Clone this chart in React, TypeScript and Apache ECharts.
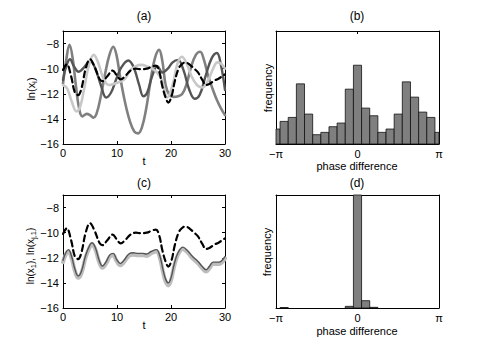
import React, { useEffect, useRef } from "react";
import * as echarts from "echarts";

const FONT = "Liberation Sans, Arial, Helvetica, sans-serif";

// ---- Panel (a): ln(x_i) of the uncoupled oscillators ----
const mediumA: [number, number][] = [
  [0, -11.2], [0.6, -9.3], [1.2, -8.1], [1.8, -9.2], [2.4, -11.4], [3.0, -13.2], [3.6, -13.8],
  [4.4, -13.6], [5.0, -13.7], [5.6, -13.9], [6.2, -13.6], [7.0, -12.2], [7.8, -10.4], [8.6, -8.9],
  [9.3, -8.25], [9.9, -8.9], [10.6, -10.7], [11.5, -12.7], [12.4, -14.2], [13.2, -15.0], [13.9, -15.15],
  [14.6, -14.7], [15.4, -13.2], [16.2, -11.0], [17.0, -9.2], [17.8, -8.5], [18.4, -9.4], [19.0, -11.3],
  [19.7, -12.1], [20.5, -12.25], [21.3, -12.2], [22.1, -12.0], [22.9, -11.2], [23.7, -9.9], [24.6, -8.9],
  [25.4, -8.65], [26.1, -9.3], [26.9, -10.6], [27.7, -11.6], [28.5, -12.5], [29.3, -13.2], [30, -13.7],
];
const darkA: [number, number][] = [
  [0, -10.9], [0.6, -9.8], [1.3, -9.25], [2.0, -9.8], [2.9, -10.25], [3.9, -9.9], [5.0, -9.4],
  [5.9, -9.9], [7.0, -11.3], [8.0, -12.3], [8.9, -11.9], [9.8, -10.9], [10.8, -9.9], [12.1, -9.35],
  [13.1, -9.9], [14.1, -11.3], [14.9, -12.2], [15.6, -11.9], [16.5, -10.6], [17.5, -9.8], [18.4, -10.3],
  [19.4, -10.0], [20.3, -9.5], [21.3, -9.3], [22.3, -10.1], [23.4, -11.7], [24.4, -12.4], [25.3, -12.1],
  [26.4, -10.6], [27.5, -9.2], [28.5, -8.75], [29.2, -9.6], [30, -11.7],
];
const lightA: [number, number][] = [
  [0, -11.3], [0.8, -11.6], [1.6, -12.6], [2.5, -13.4], [3.2, -13.0], [4.0, -11.4], [4.8, -9.7],
  [5.7, -8.9], [6.5, -9.5], [7.5, -10.8], [8.5, -11.3], [9.5, -11.2], [10.5, -11.05], [11.5, -10.8],
  [12.5, -10.1], [13.5, -9.8], [14.5, -9.7], [15.5, -9.8], [16.5, -10.0], [17.4, -10.3], [18.3, -10.9],
  [19.3, -12.3], [20.3, -11.3], [21.2, -9.6], [22.0, -9.05], [22.8, -9.5], [23.8, -10.6], [24.8, -11.3],
  [25.8, -11.5], [26.8, -11.0], [27.8, -10.0], [28.6, -9.5], [29.3, -9.6], [30, -10.0],
];
// dashed driving signal (same in (a) and (c))
const dashedSignal: [number, number][] = [
  [0, -10.1], [0.7, -9.65], [1.5, -10.6], [2.2, -11.9], [2.8, -12.1], [3.4, -11.6], [4.2, -10.0],
  [5.0, -9.25], [5.8, -9.8], [6.8, -10.85], [7.3, -11.0], [8.2, -10.6], [9.2, -10.15], [9.9, -10.5],
  [10.7, -10.85], [11.5, -10.6], [12.5, -10.15], [13.5, -10.0], [14.5, -10.05], [15.5, -10.0],
  [16.4, -9.85], [17.2, -9.75], [17.8, -10.2], [18.4, -11.4], [19.0, -12.3], [19.5, -12.7], [20.1, -12.2],
  [20.7, -11.0], [21.4, -10.0], [22.0, -9.65], [22.7, -9.5], [23.5, -9.7], [24.3, -10.0], [25.0, -10.3],
  [25.8, -10.9], [26.5, -11.3], [27.2, -11.2], [28.0, -10.95], [28.8, -10.8], [29.5, -10.6], [30, -10.45],
];

// ---- Panel (c): ln(x_1), ln(x_{j,1}) ----
const darkC: [number, number][] = [
  [0, -12.2], [0.5, -11.6], [1.0, -11.35], [1.6, -11.9], [2.2, -12.9], [2.8, -13.45], [3.4, -13.1],
  [4.2, -11.8], [5.0, -10.95], [5.4, -10.8], [6.0, -11.2], [6.7, -12.2], [7.3, -12.65], [8.0, -12.3],
  [8.7, -11.75], [9.3, -11.65], [9.9, -12.1], [10.6, -12.45], [11.3, -12.2], [12.2, -11.7], [13.0, -11.6],
  [14.0, -11.65], [14.8, -11.65], [15.5, -11.7], [16.3, -11.5], [17.3, -11.35], [17.9, -11.8], [18.5, -12.9],
  [19.0, -13.7], [19.5, -14.0], [20.0, -13.6], [20.6, -12.5], [21.3, -11.6], [22.2, -11.15], [23.0, -11.4],
  [24.0, -11.9], [25.0, -12.3], [25.8, -12.7], [26.5, -12.95], [27.1, -12.7], [27.8, -12.35], [28.5, -12.35],
  [29.2, -12.3], [30, -11.9],
];
const lightC: [number, number][] = [
  [0, -12.35], [0.5, -11.75], [1.0, -11.5], [1.6, -12.05], [2.2, -13.05], [2.8, -13.6], [3.4, -13.25],
  [4.2, -11.95], [5.0, -11.1], [5.4, -10.95], [6.0, -11.35], [6.7, -12.35], [7.3, -12.8], [8.0, -12.45],
  [8.7, -11.9], [9.3, -11.8], [9.9, -12.25], [10.6, -12.6], [11.3, -12.35], [12.2, -11.85], [13.0, -11.75],
  [14.0, -11.8], [14.8, -11.8], [15.5, -11.85], [16.3, -11.65], [17.3, -11.5], [17.9, -11.95], [18.5, -13.1],
  [19.0, -13.9], [19.5, -14.2], [20.0, -13.8], [20.6, -12.65], [21.3, -11.75], [22.2, -11.3], [23.0, -11.55],
  [24.0, -12.05], [25.0, -12.45], [25.8, -12.85], [26.5, -13.1], [27.1, -12.85], [27.8, -12.5], [28.5, -12.5],
  [29.2, -12.45], [30, -12.05],
];

// ---- Histograms (b) and (d): bin centres in units of pi ----
const binCentersPi = [
  -1, -0.9, -0.8, -0.7, -0.6, -0.5, -0.4, -0.3, -0.2, -0.1, 0,
  0.1, 0.2, 0.3, 0.4, 0.5, 0.6, 0.7, 0.8, 0.9, 1,
];
const binWidthPi = 0.1;
const freqB = [45, 68, 80, 181, 90, 28, 35, 52, 63, 165, 237, 108, 85, 35, 45, 90, 187, 141, 96, 80, 35];
const freqD = [0, 1.5, 0, 0, 0, 0, 0, 0, 0, 5, 340, 22, 2, 0, 0, 0, 0, 0, 0, 0, 0];
const freqMax = 340;

const tTicks = { min: 0, max: 30, interval: 10 };
const lnTicks = { min: -16, max: -7, interval: 2 };

export default function App() {
  const ref = useRef<HTMLDivElement>(null);

  useEffect(() => {
    if (!ref.current) return;
    const chart = echarts.init(ref.current, undefined, { renderer: "svg" });
    const PI = Math.PI;
    const BIN = binWidthPi * PI;

    const line = { show: true, onZero: false, lineStyle: { color: "#000", width: 1 } };
    const tick = { show: true, inside: true, length: 3, lineStyle: { color: "#000", width: 1 } };
    const lbl = { fontSize: 11, color: "#000", fontFamily: FONT };
    const minus = (v: number) => String(v).replace("-", "\u2212");
    const piFmt = (v: number) => (Math.abs(v) < 1e-6 ? "0" : v < 0 ? "\u2212\u03c0" : "\u03c0");

    const tX = (g: number, pos: string, labels: boolean) => ({
      gridIndex: g, type: "value", position: pos, ...tTicks,
      axisLine: line, axisTick: tick, splitLine: { show: false },
      axisLabel: labels ? { ...lbl, margin: 3 } : { show: false },
    });
    const lnY = (g: number, pos: string, labels: boolean) => ({
      gridIndex: g, type: "value", position: pos, ...lnTicks,
      axisLine: line, axisTick: tick, splitLine: { show: false },
      axisLabel: labels ? { ...lbl, margin: 4, formatter: minus, showMaxLabel: false } : { show: false },
    });
    const phX = (g: number, pos: string, labels: boolean) => ({
      gridIndex: g, type: "value", position: pos, min: -PI, max: PI, interval: PI,
      axisLine: line, axisTick: tick, splitLine: { show: false },
      axisLabel: labels ? { ...lbl, margin: 4, formatter: piFmt } : { show: false },
    });
    const frY = (g: number, pos: string) => ({
      gridIndex: g, type: "value", position: pos, min: 0, max: freqMax,
      axisLine: line, axisTick: { show: false }, splitLine: { show: false }, axisLabel: { show: false },
    });

    const histData = (freq: number[]) => binCentersPi.map((c, i) => [c * PI, freq[i]]);
    const renderBar = (params: any, api: any) => {
      const c = api.value(0);
      const v = api.value(1);
      if (!(v > 0)) return null;
      const p0 = api.coord([c - BIN / 2, v]);
      const p1 = api.coord([c + BIN / 2, 0]);
      const cs = params.coordSys;
      const rect = echarts.graphic.clipRectByRect(
        { x: p0[0], y: p0[1], width: p1[0] - p0[0], height: p1[1] - p0[1] },
        { x: cs.x, y: cs.y, width: cs.width, height: cs.height }
      );
      if (!rect) return null;
      return { type: "rect", shape: rect, style: { fill: "#7f7f7f", stroke: "#111", lineWidth: 0.8 } };
    };

    const lineSeries = (x: number, y: number, data: [number, number][], color: string, width: number, dash?: number[]) => ({
      type: "line", xAxisIndex: x, yAxisIndex: y, data, showSymbol: false, smooth: 0.4, silent: true,
      lineStyle: { color, width, type: dash ? dash : "solid", cap: "round", join: "round" },
    });

    const txt = (text: string, x: number, y: number, size = 12, extra: any = {}) => ({
      type: "text", x, y, silent: true, ...extra,
      style: { text, fontSize: size, fontFamily: FONT, fill: "#000", align: "center", verticalAlign: "middle", ...(extra.style || {}) },
    });

    chart.setOption({
      animation: false,
      backgroundColor: "#fff",
      grid: [
        { left: 63, top: 31, width: 162, height: 113 },
        { left: 276, top: 31, width: 163, height: 113 },
        { left: 63, top: 195, width: 162, height: 113 },
        { left: 276, top: 195, width: 163, height: 113 },
      ],
      xAxis: [
        tX(0, "bottom", true), tX(0, "top", false),
        phX(1, "bottom", true), phX(1, "top", false),
        tX(2, "bottom", true), tX(2, "top", false),
        phX(3, "bottom", true), phX(3, "top", false),
      ],
      yAxis: [
        lnY(0, "left", true), lnY(0, "right", false),
        frY(1, "left"), frY(1, "right"),
        lnY(2, "left", true), lnY(2, "right", false),
        frY(3, "left"), frY(3, "right"),
      ],
      series: [
        lineSeries(0, 0, mediumA, "#808080", 2.6),
        lineSeries(0, 0, darkA, "#555555", 2.4),
        lineSeries(0, 0, lightA, "#c8c8c8", 2.6),
        lineSeries(0, 0, dashedSignal, "#000000", 2.2, [6, 4]),
        { type: "custom", xAxisIndex: 2, yAxisIndex: 2, data: histData(freqB), renderItem: renderBar, encode: { x: 0, y: 1 }, silent: true },
        lineSeries(4, 4, lightC, "#bdbdbd", 4),
        lineSeries(4, 4, darkC, "#555555", 1.4),
        lineSeries(4, 4, dashedSignal, "#000000", 2.2, [6, 4]),
        { type: "custom", xAxisIndex: 6, yAxisIndex: 6, data: histData(freqD), renderItem: renderBar, encode: { x: 0, y: 1 }, silent: true },
      ],
      graphic: [
        txt("(a)", 144, 16),
        txt("(b)", 357, 16),
        txt("(c)", 144, 183),
        txt("(d)", 357, 183),
        txt("t", 144, 161, 11),
        txt("t", 144, 325, 11),
        txt("phase difference", 357, 166, 11),
        txt("phase difference", 357, 331, 11),
        txt("frequency", 268, 88, 11, { rotation: Math.PI / 2 }),
        txt("frequency", 267, 252, 11, { rotation: Math.PI / 2 }),
        txt("ln(x{s|i})", 31, 89, 11, {
          rotation: Math.PI / 2,
          style: { rich: { s: { fontSize: 8, fontFamily: FONT, fill: "#000", padding: [6, 0, 0, 0] } } },
        }),
        txt("ln(x{s|1}), ln(x{s|j,1})", 30, 256, 10, {
          rotation: Math.PI / 2,
          style: { rich: { s: { fontSize: 7.5, fontFamily: FONT, fill: "#000", padding: [6, 0, 0, 0] } } },
        }),
      ],
    });
    return () => chart.dispose();
  }, []);

  return (
    <div
      ref={ref}
      style={{ position: "fixed", left: 0, top: 0, width: 485, height: 347, background: "#fff" }}
    />
  );
}
